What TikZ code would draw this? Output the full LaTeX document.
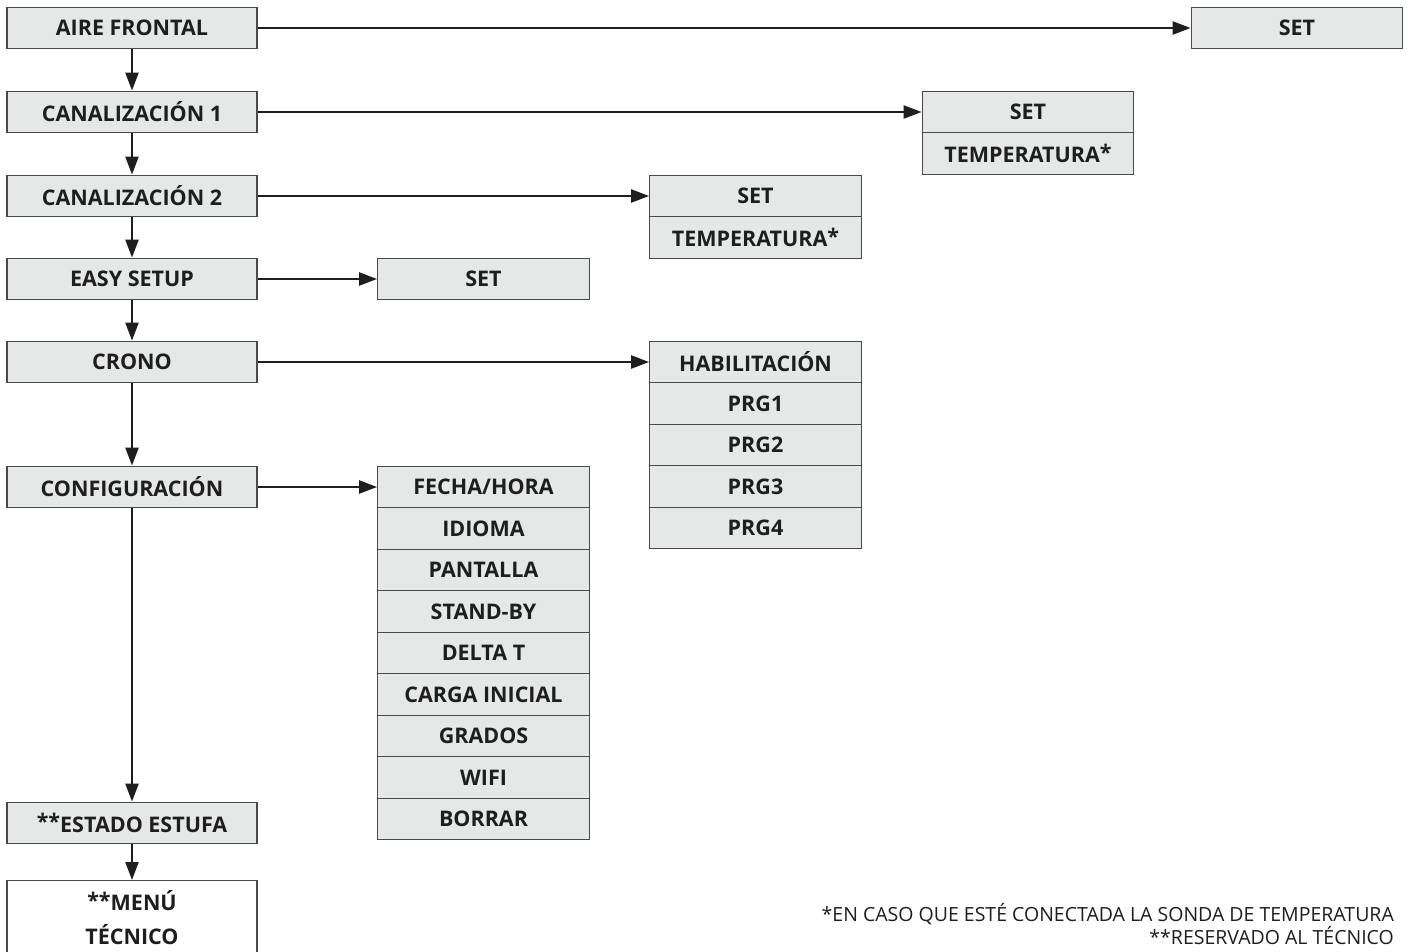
\documentclass[tikz,border=0pt]{standalone}
\usepackage{fontspec}
\setmainfont{Open Sans}
\usetikzlibrary{arrows.meta}
\definecolor{boxline}{HTML}{4A4A4A}
\definecolor{boxfill}{HTML}{E6E7E7}
\definecolor{txt}{HTML}{1E1E1E}
\newcommand{\myast}{\raisebox{0.2ex}{*}}
\begin{document}
\begin{tikzpicture}[x=1pt,y=-1pt,
  box/.style={draw=boxline, fill=boxfill, line width=1.3pt, minimum height=41.5pt, inner sep=0pt,
    font=\fontsize{21.5}{24}\selectfont\bfseries, text=txt},
  lbox/.style={box, minimum width=250pt},
  rbox/.style={box, minimum width=211.5pt},
  arr/.style={line width=2.3pt, draw=txt, -{Triangle[length=18pt,width=13pt]}}]
\useasboundingbox (0,0) rectangle (1407,951);
\clip (0,0) rectangle (1407,951);
% left column
\node[lbox] (aire) at (132,28) {AIRE FRONTAL};
\node[lbox] (can1) at (132,112) {CANALIZACIÓN 1};
\node[lbox] (can2) at (132,196) {CANALIZACIÓN 2};
\node[lbox] (easy) at (132,279) {EASY SETUP};
\node[lbox] (crono) at (132,362) {CRONO};
\node[lbox] (config) at (132,487) {CONFIGURACIÓN};
\node[lbox] (estado) at (132,823) {\myast\myast ESTADO ESTUFA};
\node[lbox, fill=white, minimum height=100pt, anchor=north] (menubox) at (132,880) {};
\node[font=\fontsize{21.5}{34}\selectfont\bfseries, text=txt, align=center, anchor=north] (menu) at (132,887) {\myast\myast MENÚ\\TÉCNICO};
% right boxes
\node[rbox] (set0) at (1297,28) {SET};
\node[rbox] (set1) at (1028,112) {SET};
\node[rbox] (temp1) at (1028,153.5) {TEMPERATURA\myast};
\node[rbox] (set2) at (755.5,196) {SET};
\node[rbox] (temp2) at (755.5,237.5) {TEMPERATURA\myast};
\node[rbox] (set3) at (483.5,279) {SET};
\node[rbox] (hab) at (755.5,362) {HABILITACIÓN};
\node[rbox] (prg1) at (755.5,403.5) {PRG1};
\node[rbox] (prg2) at (755.5,445) {PRG2};
\node[rbox] (prg3) at (755.5,486.5) {PRG3};
\node[rbox] (prg4) at (755.5,528) {PRG4};
\node[rbox] (fecha) at (483.5,487) {FECHA/HORA};
\node[rbox] (idioma) at (483.5,528.5) {IDIOMA};
\node[rbox] (pant) at (483.5,570) {PANTALLA};
\node[rbox] (stand) at (483.5,611.5) {STAND-BY};
\node[rbox] (delta) at (483.5,653) {DELTA T};
\node[rbox] (carga) at (483.5,694.5) {CARGA INICIAL};
\node[rbox] (grados) at (483.5,736) {GRADOS};
\node[rbox] (wifi) at (483.5,777.5) {WIFI};
\node[rbox] (borrar) at (483.5,819) {BORRAR};
% arrows
\draw[arr] (aire.south) -- (can1.north);
\draw[arr] (can1.south) -- (can2.north);
\draw[arr] (can2.south) -- (easy.north);
\draw[arr] (easy.south) -- (crono.north);
\draw[arr] (crono.south) -- (config.north);
\draw[arr] (config.south) -- (estado.north);
\draw[arr] (estado.south) -- (menubox.north);
\draw[arr] (aire.east) -- (set0.west);
\draw[arr] (can1.east) -- (set1.west);
\draw[arr] (can2.east) -- (set2.west);
\draw[arr] (easy.east) -- (set3.west);
\draw[arr] (crono.east) -- (hab.west);
\draw[arr] (config.east) -- (fecha.west);
% footnote
\node[anchor=north east, align=right, inner sep=0pt, text=txt, font=\fontsize{19.5}{23}\selectfont] (note) at (1394,903)
  {*EN CASO QUE ESTÉ CONECTADA LA SONDA DE TEMPERATURA\\**RESERVADO AL TÉCNICO};
\end{tikzpicture}
\end{document}
